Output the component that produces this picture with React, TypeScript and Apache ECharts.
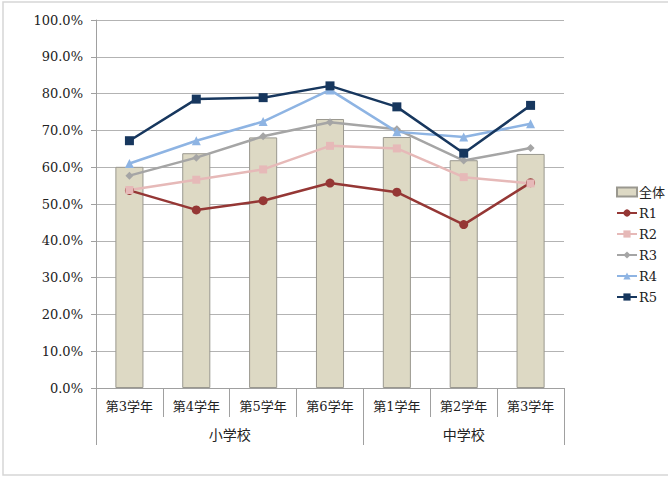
import React, { useEffect, useRef } from "react";
import * as echarts from "echarts";

const categories = ["第3学年", "第4学年", "第5学年", "第6学年", "第1学年", "第2学年", "第3学年"];
const groupSlots = ["", "", "", "", "小学校", "", "", "", "", "", "", "中学校", "", "", ""];
const groupTickIdx = [0, 8, 14];
const yTicks = [0, 10, 20, 30, 40, 50, 60, 70, 80, 90, 100];

const zentai = [60.1, 63.8, 68.1, 73.1, 68.2, 61.9, 63.6];
const r1 = [53.7, 48.4, 50.9, 55.7, 53.2, 44.4, 55.8];
const r2 = [53.8, 56.6, 59.4, 65.8, 65.1, 57.3, 55.6];
const r3 = [57.7, 62.6, 68.4, 72.2, 70.3, 61.8, 65.2];
const r4 = [61.0, 67.2, 72.4, 81.0, 69.6, 68.2, 71.8];
const r5 = [67.2, 78.5, 78.9, 82.1, 76.4, 63.8, 76.8];

const FONT = '"DejaVu Serif", "Noto Sans CJK JP"';

export default function App() {
  const ref = useRef<HTMLDivElement>(null);
  useEffect(() => {
    if (!ref.current) return;
    const chart = echarts.init(ref.current, null, { renderer: "svg" });
    const lineSeries = (name: string, data: number[], color: string, symbol: string, size: number) => ({
      name,
      type: "line",
      data,
      xAxisIndex: 0,
      symbol,
      symbolSize: size,
      lineStyle: { color, width: 2.5 },
      itemStyle: { color },
      z: 3,
    });
    chart.setOption({
      animation: false,
      textStyle: { fontFamily: FONT },
      graphic: [
        {
          type: "rect",
          shape: { x: 3, y: 2, width: 700, height: 473 },
          style: { fill: "none", stroke: "#d6d6d6", lineWidth: 1.5 },
          silent: true,
        },
      ],
      grid: { left: 96, right: 104, top: 20, bottom: 89 },
      legend: {
        orient: "vertical",
        left: 611,
        top: 180,
        itemWidth: 20,
        itemHeight: 9,
        itemGap: 7,
        textStyle: { fontFamily: FONT, fontSize: 13, color: "#222", lineHeight: 14, padding: [0, 0, 0, -3] },
        data: [
          { name: "全体", icon: "rect" },
          "R1",
          "R2",
          "R3",
          "R4",
          "R5",
        ],
      },
      xAxis: [
        {
          type: "category",
          data: categories,
          position: "bottom",
          offset: 0,
          boundaryGap: true,
          axisLine: { lineStyle: { color: "#a0a0a0", width: 1 } },
          axisTick: { show: true, length: 29, interval: 0, alignWithLabel: false, lineStyle: { color: "#a0a0a0" } },
          axisLabel: { interval: 0, margin: 12, fontSize: 13, color: "#222", fontFamily: FONT },
        },
        {
          type: "category",
          data: groupSlots,
          position: "bottom",
          offset: 0,
          boundaryGap: false,
          axisLine: { show: false },
          axisTick: {
            show: true,
            length: 57,
            interval: (i: number) => groupTickIdx.includes(i),
            lineStyle: { color: "#a0a0a0" },
          },
          axisLabel: {
            interval: (i: number) => groupSlots[i] !== "",
            margin: 40,
            fontSize: 14,
            color: "#222",
            fontFamily: FONT,
          },
        },
      ],
      yAxis: {
        type: "value",
        min: yTicks[0],
        max: yTicks[yTicks.length - 1],
        interval: 10,
        axisLine: { show: true, lineStyle: { color: "#a0a0a0" } },
        axisTick: { show: true, length: 5, lineStyle: { color: "#a0a0a0" } },
        axisLabel: {
          margin: 13,
          fontSize: 13,
          color: "#222",
          fontFamily: FONT,
          formatter: (v: number) => v.toFixed(1) + "%",
        },
        splitLine: { show: true, lineStyle: { color: "#b3b3b3", width: 1 } },
      },
      series: [
        {
          name: "全体",
          type: "bar",
          data: zentai,
          xAxisIndex: 0,
          barWidth: "42%",
          itemStyle: { color: "#ddd9c4", borderColor: "#9a988f", borderWidth: 1 },
          z: 2,
        },
        lineSeries("R1", r1, "#953735", "circle", 9),
        lineSeries("R2", r2, "#e6b9b8", "rect", 8),
        lineSeries("R3", r3, "#a5a5a5", "diamond", 8),
        lineSeries("R4", r4, "#8eb4e3", "triangle", 9),
        lineSeries("R5", r5, "#17375e", "rect", 9),
      ],
    });
    return () => chart.dispose();
  }, []);
  return (
    <div
      ref={ref}
      style={{ position: "absolute", left: 0, top: 0, width: 668, height: 477, background: "#fff" }}
    />
  );
}
